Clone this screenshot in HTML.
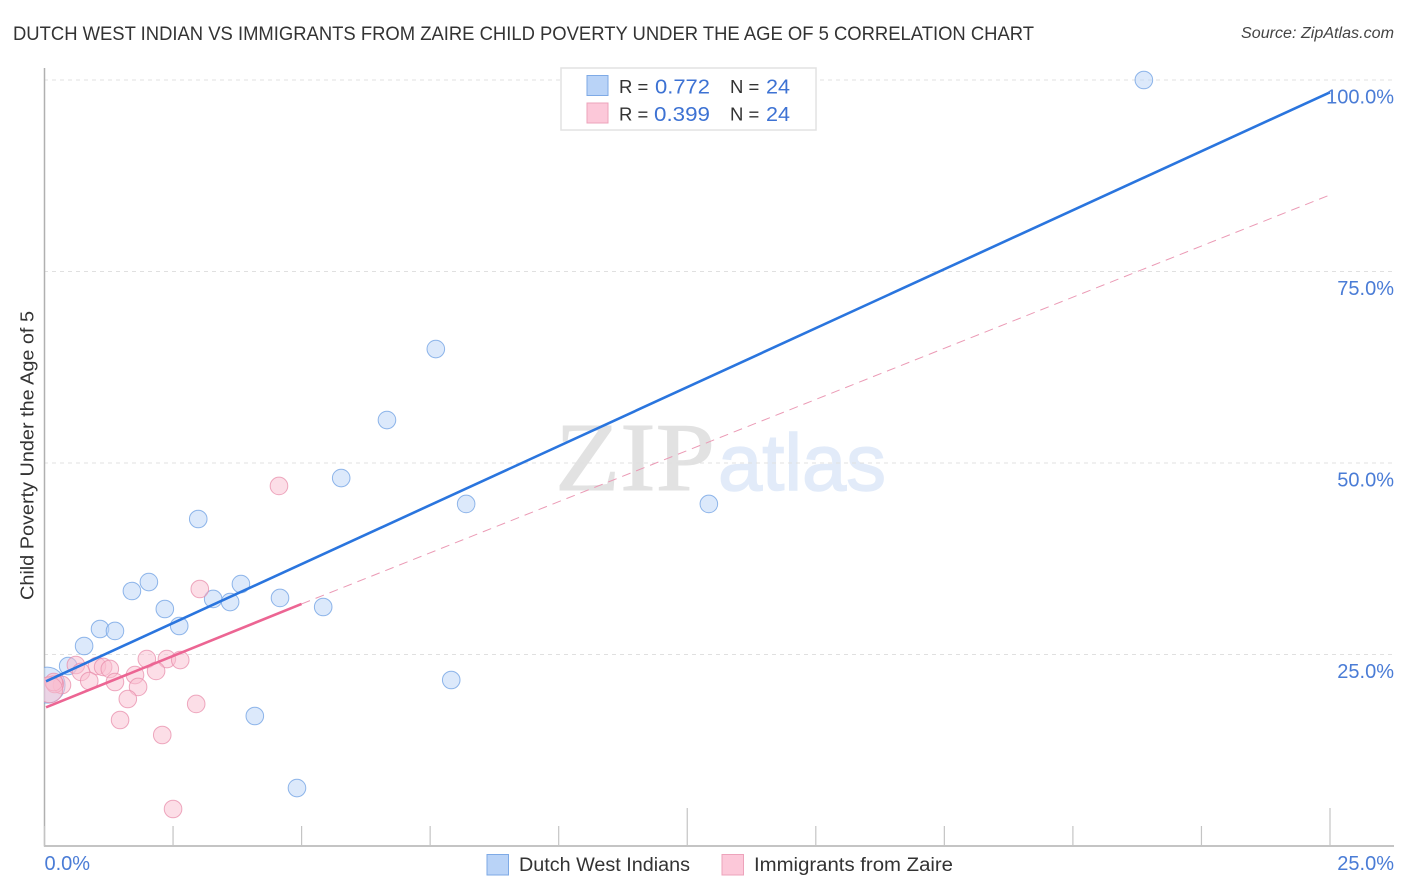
<!DOCTYPE html>
<html lang="en">
<head>
<meta charset="utf-8">
<title>Dutch West Indian vs Immigrants from Zaire Child Poverty Correlation Chart</title>
<style>
html,body{margin:0;padding:0;background:#fff;width:1406px;height:892px;overflow:hidden}
svg{display:block;font-family:"Liberation Sans",sans-serif}
</style>
</head>
<body>
<svg id="chart" width="1406" height="892" viewBox="0 0 1406 892" xmlns="http://www.w3.org/2000/svg">
  <defs>
    <clipPath id="plot-clip"><rect x="44" y="60" width="1350" height="786"/></clipPath>
  </defs>
  <text x="13" y="40" font-size="19.5" fill="#333" textLength="1021" lengthAdjust="spacingAndGlyphs">DUTCH WEST INDIAN VS IMMIGRANTS FROM ZAIRE CHILD POVERTY UNDER THE AGE OF 5 CORRELATION CHART</text>
  <text x="1394" y="38" font-size="15.5" font-style="italic" fill="#444" text-anchor="end" textLength="153" lengthAdjust="spacingAndGlyphs">Source: ZipAtlas.com</text>

  <g>
    <text x="555" y="490" font-family="'Liberation Serif',serif" font-size="98" fill="#e2e2e2" stroke="#e2e2e2" stroke-width="1" textLength="160" lengthAdjust="spacingAndGlyphs">ZIP</text>
    <text x="718" y="490" font-size="80" fill="#e2ebf9" stroke="#e2ebf9" stroke-width="1.5" textLength="168" lengthAdjust="spacingAndGlyphs">atlas</text>
  </g>

  <g id="grid"></g>
  <g id="axes"></g>
  <g id="points" clip-path="url(#plot-clip)"></g>
  <g id="trends" clip-path="url(#plot-clip)"></g>
  <g id="labels"></g>

  <text transform="translate(33.5,455.5) rotate(-90)" font-size="18.5" fill="#333" text-anchor="middle" textLength="289" lengthAdjust="spacingAndGlyphs">Child Poverty Under the Age of 5</text>

  <g>
    <rect x="561" y="68" width="255" height="62" fill="#fff" stroke="#e2e2e2" stroke-width="1.5"/>
    <rect x="587" y="75.5" width="21" height="20" fill="#b9d3f7" stroke="#7eaae6" stroke-width="1"/>
    <rect x="587" y="103" width="21" height="20" fill="#fcc8d9" stroke="#eda3bb" stroke-width="1"/>
    <text x="619" y="93" font-size="18.5" fill="#333">R =</text>
    <text x="655" y="93.5" font-size="20.5" fill="#3d72d3" textLength="55" lengthAdjust="spacingAndGlyphs">0.772</text>
    <text x="730" y="93" font-size="18.5" fill="#333">N =</text>
    <text x="766" y="93.5" font-size="20.5" fill="#3d72d3" textLength="24" lengthAdjust="spacingAndGlyphs">24</text>
    <text x="619" y="120.5" font-size="18.5" fill="#333">R =</text>
    <text x="654" y="121" font-size="20.5" fill="#3d72d3" textLength="56" lengthAdjust="spacingAndGlyphs">0.399</text>
    <text x="730" y="120.5" font-size="18.5" fill="#333">N =</text>
    <text x="766" y="121" font-size="20.5" fill="#3d72d3" textLength="24" lengthAdjust="spacingAndGlyphs">24</text>
  </g>

  <g>
    <rect x="487" y="854.5" width="21.5" height="20.5" fill="#b9d3f7" stroke="#7eaae6" stroke-width="1"/>
    <text x="519" y="871" font-size="19" fill="#333" textLength="171" lengthAdjust="spacingAndGlyphs">Dutch West Indians</text>
    <rect x="722" y="854.5" width="21.5" height="20.5" fill="#fcc8d9" stroke="#eda3bb" stroke-width="1"/>
    <text x="754" y="871" font-size="19" fill="#333" textLength="199" lengthAdjust="spacingAndGlyphs">Immigrants from Zaire</text>
  </g>
</svg>
<script>
const yTickValues = [25, 50, 75, 100];
const yTickLabels = ["25.0%", "50.0%", "75.0%", "100.0%"];
const xTickValues = [0, 2.5, 5, 7.5, 10, 12.5, 15, 17.5, 20, 22.5, 25];
const xTickMajor = [false, false, false, false, false, true, false, false, false, false, true];
const xEndValues = [0, 25];
const xEndLabels = ["0.0%", "25.0%"];

const blueX = [21.38, 7.61, 6.66, 5.77, 8.20, 12.92, 2.99, 2.03, 3.82, 1.70, 3.28, 3.61, 4.58, 2.34, 5.42, 2.62, 1.08, 1.37, 0.77, 0.46, 7.91, 4.09, 4.91, 0.05];
const blueY = [100, 64.88, 55.61, 48.04, 44.65, 44.65, 42.69, 34.46, 34.20, 33.29, 32.25, 31.85, 32.38, 30.94, 31.20, 28.72, 28.33, 28.07, 26.11, 23.50, 21.67, 16.97, 7.57, 21.0];

const pinkX = [4.56, 3.02, 1.99, 2.38, 2.64, 0.61, 1.02, 1.14, 1.27, 0.71, 1.76, 2.17, 0.87, 1.37, 1.82, 0.34, 1.62, 2.95, 1.47, 2.29, 2.50, 0.20, 0.18, 0.10];
const pinkY = [47.0, 33.55, 24.41, 24.41, 24.28, 23.63, 23.50, 23.37, 23.11, 22.72, 22.32, 22.85, 21.54, 21.41, 20.76, 21.02, 19.19, 18.54, 16.45, 14.49, 4.83, 21.15, 21.4, 20.4];

const blueTrendX = [0.03, 25];
const blueTrendY = [21.5, 98.4];
const pinkSolidX = [0.03, 5.0];
const pinkSolidY = [18.1, 31.6];
const pinkDashX = [5.0, 25];
const pinkDashY = [31.6, 85.0];

const NS = "http://www.w3.org/2000/svg";
const xScale = v => 44.5 + v * 51.42;
const yScale = v => 846 - v * 7.66;

function make(tag, parentId, attrs) {
  const el = document.createElementNS(NS, tag);
  for (const k in attrs) el.setAttribute(k, attrs[k]);
  document.getElementById(parentId).appendChild(el);
  return el;
}

yTickValues.forEach((v) => {
  const el = make("line", "grid", {x1: 44, x2: 1394, y1: yScale(v), y2: yScale(v), stroke: "#e0e0e0", "stroke-width": 1, "stroke-dasharray": "4 4"});
  
  
});

const yAxis = make("line", "axes", {x1: 44.5, x2: 44.5, y1: 68, y2: 846.5, stroke: "#b0b0b0", "stroke-width": 1.5});


const xAxis = make("line", "axes", {x1: 44, x2: 1394, y1: 846, y2: 846, stroke: "#b0b0b0", "stroke-width": 1.5});



xTickValues.forEach((v, i) => {
  const el = make("line", "axes", {x1: xScale(v), x2: xScale(v), y1: xTickMajor[i] ? 808 : 826, y2: 846, stroke: "#c4c4c4", "stroke-width": 1.2});
  
  
});

function drawPoints(xs, ys, fill, stroke, bigIndex, bigRadius, name) {
  xs.forEach((x, i) => {
    const el = make("circle", "points", {cx: xScale(x), cy: yScale(ys[i]), r: i === bigIndex ? bigRadius : 8.8, fill: fill, "fill-opacity": 0.5, stroke: stroke, "stroke-opacity": 0.75, "stroke-width": 1});
    
    
  });
}
drawPoints(blueX, blueY, "#b9d3f7", "#6c9fe3", 23, 18, "point-dutch-west-indians");
drawPoints(pinkX, pinkY, "#f9bdd0", "#e88dab", 23, 13, "point-immigrants-from-zaire");

const blueLine = make("line", "trends", {x1: xScale(blueTrendX[0]), y1: yScale(blueTrendY[0]), x2: xScale(blueTrendX[1]), y2: yScale(blueTrendY[1]), stroke: "#2a75de", "stroke-width": 2.6});


const pinkLine = make("line", "trends", {x1: xScale(pinkSolidX[0]), y1: yScale(pinkSolidY[0]), x2: xScale(pinkSolidX[1]), y2: yScale(pinkSolidY[1]), stroke: "#ec6593", "stroke-width": 2.6});


const pinkDash = make("line", "trends", {x1: xScale(pinkDashX[0]), y1: yScale(pinkDashY[0]), x2: xScale(pinkDashX[1]), y2: yScale(pinkDashY[1]), stroke: "#eb9ab5", "stroke-width": 1, "stroke-dasharray": "9 6"});



yTickValues.forEach((v, i) => {
  const el = make("text", "labels", {x: 1394, y: yScale(v) + 23.5, "font-size": 20, fill: "#4a7cd6", "text-anchor": "end"});
  el.textContent = yTickLabels[i];
  
  
});
xEndValues.forEach((v, i) => {
  const el = make("text", "labels", {x: i === 0 ? xScale(v) : 1394, y: 870, "font-size": 20, fill: "#4a7cd6", "text-anchor": i === 0 ? "start" : "end"});
  el.textContent = xEndLabels[i];
  
  
});
</script>
</body>
</html>
